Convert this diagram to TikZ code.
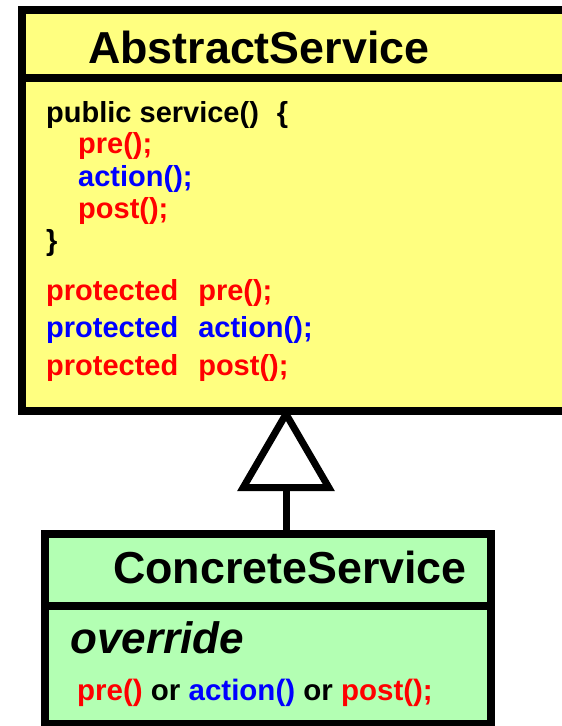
\documentclass[tikz,border=0pt]{standalone}
\usepackage{fontspec}
\setmainfont{Liberation Sans}
\usetikzlibrary{arrows.meta}
\definecolor{umlInk}{HTML}{000000}
\definecolor{umlYellow}{HTML}{FFFF80}
\definecolor{umlGreen}{HTML}{B3FFB3}
\definecolor{umlRed}{HTML}{FF0000}
\definecolor{umlBlue}{HTML}{0000FF}
\tikzset{
  every picture/.style={font=\bfseries, text=umlInk},
  uml frame/.style={draw=umlInk, line width=8pt, rectangle,
    outer sep=0pt, inner sep=0pt},
  uml title/.style={anchor=base west, inner sep=0pt,
    font=\fontsize{44.8}{48}\selectfont\bfseries},
  uml code/.style={anchor=base west, inner sep=0pt,
    font=\fontsize{29}{33}\selectfont\bfseries},
  uml inherit/.style={-{Triangle[open, length=84pt, width=96pt]},
    draw=umlInk, line width=7pt, line cap=butt}
}

\begin{document}
\begin{tikzpicture}[x=1pt, y=-1pt]
  \useasboundingbox (0,0) rectangle (562,726);
  \clip (0,0) rectangle (562,726);

  % abstract class
  \node[uml frame, fill=umlYellow, minimum width=548pt, minimum height=68pt]
    (abstractHead) at (296,44) {};
  \node[uml frame, fill=umlYellow, minimum width=548pt, minimum height=333pt]
    (abstractBody) at (296,244.5) {};
  \node[uml title] (abstractName) at (88,63) {AbstractService};
  \node[uml code] (serviceOpen) at (46,122) {public service()\hspace{18pt}\{};
  \foreach \name/\txt/\col/\y in {callPre/{pre();}/umlRed/153,
      callAction/{action();}/umlBlue/186, callPost/{post();}/umlRed/218}
    \node[uml code, text=\col] (\name) at (78,\y) {\txt};
  \node[uml code] (serviceClose) at (46,250) {\}};
  \foreach \name/\txt/\col/\y in {hookPre/{pre();}/umlRed/300,
      hookAction/{action();}/umlBlue/337, hookPost/{post();}/umlRed/375}
    \node[uml code, text=\col] (\name) at (46,\y) {protected\hspace{20pt}\txt};

  % concrete class
  \node[uml frame, fill=umlGreen, minimum width=446pt, minimum height=72pt]
    (concreteHead) at (268,570) {};
  \node[uml frame, fill=umlGreen, minimum width=446pt, minimum height=118pt]
    (concreteBody) at (268,665) {};
  \node[uml title] (concreteName) at (113,583) {ConcreteService};
  \node[uml title, font=\fontsize{44}{48}\selectfont\bfseries\itshape]
    (overrideNote) at (70,653) {override};
  \node[uml code, font=\fontsize{29.5}{33}\selectfont\bfseries]
    (overrideList) at (77,700)
    {{\color{umlRed}pre()} or {\color{umlBlue}action()} or {\color{umlRed}post();}};

  \draw[uml inherit] ([xshift=18pt]concreteHead.north)
    -- ([xshift=-10pt, yshift=4pt]abstractBody.south);
\end{tikzpicture}
\end{document}
